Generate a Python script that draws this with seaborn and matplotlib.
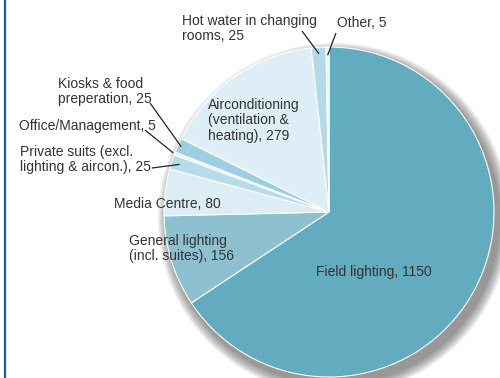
import numpy as np
import matplotlib
matplotlib.use("Agg")
import matplotlib.pyplot as plt
import seaborn as sns
from matplotlib.patches import Circle

categories = ["Field lighting", "General lighting\n(incl. suites)", "Media Centre",
              "Private suits (excl.\nlighting & aircon.)", "Office/Management",
              "Kiosks & food\npreperation", "Airconditioning\n(ventilation &\nheating)",
              "Hot water in changing\nrooms", "Other"]
values = [1150, 156, 80, 25, 5, 25, 279, 25, 5]
colors = ["#63abbe", "#8dc1d0", "#dcedf5", "#b6dbe9", "#e3f0f7",
          "#9dcfe2", "#deeef6", "#b4dae8", "#e6f2f8"]

sns.set_theme(style="white")
plt.rcParams['font.family'] = ['Liberation Sans', 'DejaVu Sans']

W, H = 500, 378
fig = plt.figure(figsize=(5.0, 3.78), dpi=100)
ax = fig.add_axes([0, 0, 1, 1])
ax.set_xlim(0, W)
ax.set_ylim(0, H)
ax.set_aspect('equal')
ax.axis('off')

cx, cy, R = 329, H - 212, 165

# soft shadow
for k in range(14, 0, -1):
    ax.add_patch(Circle((cx + 5, cy - 7), R + k * 0.8, color="#444444",
                        alpha=0.05, lw=0, zorder=0))

wedges, _ = ax.pie(values, colors=colors, startangle=90, counterclock=False,
                   center=(cx, cy), radius=R, frame=True,
                   wedgeprops=dict(edgecolor="white", linewidth=0.8))
for w in wedges:
    w.set_zorder(2)
ax.set_xlim(0, W)
ax.set_ylim(0, H)
ax.axis('off')

tc = "#333333"
fs = 10

def label(i, x, ytop):
    txt = f"{categories[i]}, {values[i]}"
    ax.text(x, H - ytop, txt, fontsize=fs, color=tc, ha="left", va="top",
            linespacing=1.12, zorder=5)

def leader(i, x0, y0, rfrac):
    w = wedges[i]
    ang = np.deg2rad((w.theta1 + w.theta2) / 2)
    ex = cx + R * rfrac * np.cos(ang)
    ey = cy + R * rfrac * np.sin(ang)
    ax.plot([x0, ex], [H - y0, ey], color="#222222", lw=0.9, zorder=6,
            solid_capstyle="butt")

label(7, 182, 14)
label(8, 337, 16)
label(6, 208, 98)
label(5, 58, 77)
label(4, 19, 119)
label(3, 20, 145)
label(2, 114, 197)
label(1, 129, 234)
label(0, 316, 265)

leader(7, 302, 31, 0.96)
leader(8, 336, 33, 0.95)
leader(5, 150, 103, 0.98)
leader(4, 145, 130, 1.01)
leader(3, 152, 168, 0.95)

# left frame line
fig.add_artist(plt.Line2D([4.5 / W, 4.5 / W], [0, 1], transform=fig.transFigure,
                          color="#1d5f8c", lw=1.6))

fig.savefig("out.png", dpi=100)
